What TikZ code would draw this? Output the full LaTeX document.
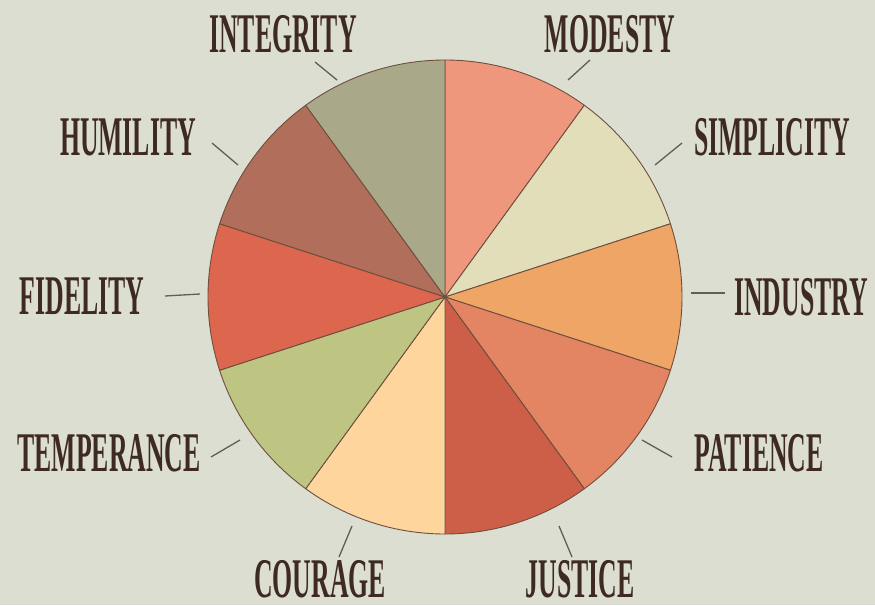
\documentclass[tikz,border=0pt]{standalone}
\usepackage{fontspec}
\usepackage{tikz}
\usepackage{xcolor}
\newfontfamily\virtuefont[FakeStretch=0.46]{Liberation Serif}

\definecolor{paper}{RGB}{220,222,210}
\definecolor{edge}{RGB}{110,78,62}
\definecolor{ink}{RGB}{62,42,32}
\definecolor{tick}{RGB}{92,96,92}
\definecolor{col-modesty}{RGB}{239,151,124}
\definecolor{col-simplicity}{RGB}{227,222,186}
\definecolor{col-industry}{RGB}{238,165,102}
\definecolor{col-patience}{RGB}{227,132,99}
\definecolor{col-justice}{RGB}{205,94,72}
\definecolor{col-courage}{RGB}{254,213,157}
\definecolor{col-temperance}{RGB}{190,196,130}
\definecolor{col-fidelity}{RGB}{221,103,78}
\definecolor{col-humility}{RGB}{176,110,91}
\definecolor{col-integrity}{RGB}{169,169,138}

\begin{document}
\begin{tikzpicture}
[
x=1pt, y=-1pt,
slice-a/.style={draw=edge, line width=0.9pt, line join=round},
label-a/.style={inner sep=0pt, text=ink, font=\virtuefont\bfseries\fontsize{56}{56}\selectfont},
tick-a/.style={draw=tick, line width=1.3pt}
]

\fill [paper] (0,0) rectangle (875,605);
\useasboundingbox (0,0) rectangle (875,605);

\coordinate (center) at (445,297);

\draw [slice-a, fill=col-modesty]    (center) -- ++(-90:237)  arc (-90:-54:237)  -- cycle;
\draw [slice-a, fill=col-simplicity] (center) -- ++(-54:237)  arc (-54:-18:237)  -- cycle;
\draw [slice-a, fill=col-industry]   (center) -- ++(-18:237)  arc (-18:18:237)   -- cycle;
\draw [slice-a, fill=col-patience]   (center) -- ++(18:237)   arc (18:54:237)    -- cycle;
\draw [slice-a, fill=col-justice]    (center) -- ++(54:237)   arc (54:90:237)    -- cycle;
\draw [slice-a, fill=col-courage]    (center) -- ++(90:237)   arc (90:126:237)   -- cycle;
\draw [slice-a, fill=col-temperance] (center) -- ++(126:237)  arc (126:162:237)  -- cycle;
\draw [slice-a, fill=col-fidelity]   (center) -- ++(162:237)  arc (162:198:237)  -- cycle;
\draw [slice-a, fill=col-humility]   (center) -- ++(198:237)  arc (198:234:237)  -- cycle;
\draw [slice-a, fill=col-integrity]  (center) -- ++(234:237)  arc (234:270:237)  -- cycle;

\node (integrity)  [label-a] at (283,34)  {INTEGRITY};
\node (modesty)    [label-a] at (610,34)  {MODESTY};
\node (humility)   [label-a] at (128,137) {HUMILITY};
\node (simplicity) [label-a] at (772,137) {SIMPLICITY};
\node (fidelity)   [label-a] at (82,296)  {FIDELITY};
\node (industry)   [label-a] at (801,297) {INDUSTRY};
\node (temperance) [label-a] at (109,453) {TEMPERANCE};
\node (patience)   [label-a] at (759,453) {PATIENCE};
\node (courage)    [label-a] at (320,579) {COURAGE};
\node (justice)    [label-a] at (580,579) {JUSTICE};

% leader ticks
\coordinate (integrity-a)  at (315,62);  \coordinate (integrity-b)  at (337,80);
\coordinate (modesty-a)    at (590,60);  \coordinate (modesty-b)    at (568,80);
\coordinate (humility-a)   at (212,143); \coordinate (humility-b)   at (238,165);
\coordinate (simplicity-a) at (682,143); \coordinate (simplicity-b) at (655,165);
\coordinate (fidelity-a)   at (165,296); \coordinate (fidelity-b)   at (200,294);
\coordinate (industry-a)   at (725,293); \coordinate (industry-b)   at (691,293);
\coordinate (temperance-a) at (211,457); \coordinate (temperance-b) at (240,440);
\coordinate (patience-a)   at (672,457); \coordinate (patience-b)   at (642,440);
\coordinate (courage-a)    at (339,557); \coordinate (courage-b)    at (352,526);
\coordinate (justice-a)    at (572,557); \coordinate (justice-b)    at (559,526);

\draw [tick-a] (integrity-a)--(integrity-b);
\draw [tick-a] (modesty-a)--(modesty-b);
\draw [tick-a] (humility-a)--(humility-b);
\draw [tick-a] (simplicity-a)--(simplicity-b);
\draw [tick-a] (fidelity-a)--(fidelity-b);
\draw [tick-a] (industry-a)--(industry-b);
\draw [tick-a] (temperance-a)--(temperance-b);
\draw [tick-a] (patience-a)--(patience-b);
\draw [tick-a] (courage-a)--(courage-b);
\draw [tick-a] (justice-a)--(justice-b);

\end{tikzpicture}
\end{document}
